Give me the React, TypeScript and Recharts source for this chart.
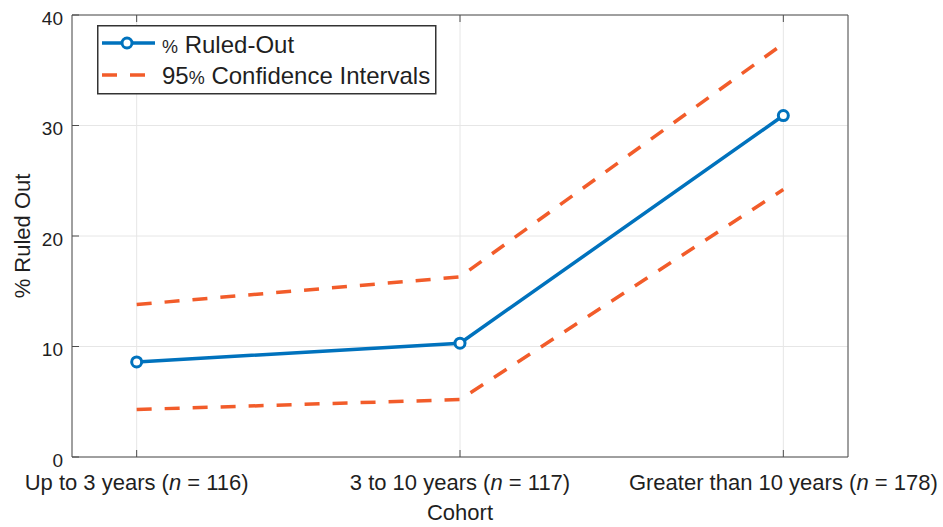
import { LineChart, Line, XAxis, YAxis, CartesianGrid, Legend, Label } from 'recharts';

// cohorts along the x axis
const cohortPos = [1, 2, 3];
const cohortNames = ['Up to 3 years', '3 to 10 years', 'Greater than 10 years'];
const cohortN = [116, 117, 178];

// % ruled out and its 95% CI bounds
const ruledOut = [8.6, 10.3, 30.9];
const ciUpper = [13.8, 16.3, 37.4];
const ciLower = [4.3, 5.2, 24.2];

const yTicks = [0, 10, 20, 30, 40];

const BLUE = '#0072BD';
const ORANGE = '#F25C2A';
const INK = '#1f1f1f';
const AXIS = '#4d4d4d';
const FONT = '"Liberation Sans", Arial, Helvetica, sans-serif';

const data = cohortPos.map((x, i) => ({
    x,
    ruledOut: ruledOut[i],
    upper: ciUpper[i],
    lower: ciLower[i],
}));

const BottomTick = ({ x, y, payload }: any) => {
    const i = cohortPos.indexOf(payload.value);
    return (
        <g>
            <line x1={x} x2={x} y1={y} y2={y - 7} stroke={AXIS} strokeWidth={1} />
            <text x={x} y={y + 33} textAnchor="middle" fontSize={22} fill={INK} fontFamily={FONT}>
                {cohortNames[i]} (<tspan fontStyle="italic">n</tspan> = {cohortN[i]})
            </text>
        </g>
    );
};

const LeftTick = ({ x, y, payload }: any) => (
    <g>
        <line x1={x} x2={x + 7} y1={y} y2={y} stroke={AXIS} strokeWidth={1} />
        <text x={x - 9} y={y + 3} dy="0.35em" textAnchor="end" fontSize={19} fill={INK} fontFamily={FONT}>
            {payload.value}
        </text>
    </g>
);

const TopTick = ({ x, y }: any) => (
    <line x1={x} x2={x} y1={y} y2={y + 7} stroke={AXIS} strokeWidth={1} />
);

const RightTick = ({ x, y }: any) => (
    <line x1={x} x2={x - 7} y1={y} y2={y} stroke={AXIS} strokeWidth={1} />
);

// MATLAB-style boxed legend
const LegendBox = () => (
    <svg width={340} height={70} style={{ display: 'block' }}>
        <rect x={0.75} y={0.75} width={338} height={68} fill="#fff" stroke="#333" strokeWidth={1.5} />
        <line x1={5} x2={58} y1={18} y2={18} stroke={BLUE} strokeWidth={3.5} />
        <circle cx={30} cy={18} r={5} fill="#fff" stroke={BLUE} strokeWidth={3} />
        <text x={65} y={28} fontSize={24} fill={INK} fontFamily={FONT}>
            <tspan fontSize={18}>%</tspan> Ruled-Out
        </text>
        <line x1={5} x2={48} y1={50} y2={50} stroke={ORANGE} strokeWidth={3.5} strokeDasharray="15 13" />
        <text x={65} y={59} fontSize={24} fill={INK} fontFamily={FONT}>
            95<tspan fontSize={18}>%</tspan> Confidence Intervals
        </text>
    </svg>
);

export default function App() {
    return (
        <div style={{ position: 'absolute', left: 0, top: 0, background: '#fff' }}>
            <LineChart width={943} height={527} data={data} margin={{ top: 14, right: 94, bottom: 0, left: 0 }}>
                <CartesianGrid stroke="#e6e6e6" strokeWidth={1} />
                <XAxis
                    dataKey="x"
                    type="number"
                    domain={[0.8, 3.2]}
                    ticks={cohortPos}
                    height={70}
                    stroke={AXIS}
                    tickSize={0}
                    tickMargin={0}
                    tickLine={false}
                    tick={<BottomTick />}
                >
                    <Label value="Cohort" position="insideBottom" offset={7} fontSize={22} fill={INK} fontFamily={FONT} />
                </XAxis>
                <XAxis
                    xAxisId="top"
                    orientation="top"
                    dataKey="x"
                    type="number"
                    domain={[0.8, 3.2]}
                    ticks={cohortPos}
                    height={1}
                    stroke={AXIS}
                    tickSize={0}
                    tickMargin={0}
                    tickLine={false}
                    tick={<TopTick />}
                />
                <YAxis
                    type="number"
                    domain={[0, 40]}
                    ticks={yTicks}
                    width={72}
                    stroke={AXIS}
                    tickSize={0}
                    tickMargin={0}
                    tickLine={false}
                    tick={<LeftTick />}
                >
                    <Label
                        value="% Ruled Out"
                        angle={-90}
                        position="insideLeft"
                        offset={22}
                        fontSize={22}
                        fill={INK}
                        fontFamily={FONT}
                        style={{ textAnchor: 'middle' }}
                    />
                </YAxis>
                <YAxis
                    yAxisId="right"
                    orientation="right"
                    type="number"
                    domain={[0, 40]}
                    ticks={yTicks}
                    width={1}
                    stroke={AXIS}
                    tickSize={0}
                    tickMargin={0}
                    tickLine={false}
                    tick={<RightTick />}
                />
                <Legend
                    layout="vertical"
                    align="center"
                    verticalAlign="middle"
                    wrapperStyle={{ left: 97, top: 25, width: 340, height: 70 }}
                    content={<LegendBox />}
                />
                <Line
                    type="linear"
                    dataKey="upper"
                    stroke={ORANGE}
                    strokeWidth={3.5}
                    strokeDasharray="15 13"
                    dot={false}
                    activeDot={false}
                    isAnimationActive={false}
                />
                <Line
                    type="linear"
                    dataKey="lower"
                    stroke={ORANGE}
                    strokeWidth={3.5}
                    strokeDasharray="15 13"
                    dot={false}
                    activeDot={false}
                    isAnimationActive={false}
                />
                <Line
                    type="linear"
                    dataKey="ruledOut"
                    stroke={BLUE}
                    strokeWidth={3.5}
                    dot={{ r: 5, stroke: BLUE, strokeWidth: 3, fill: '#fff' }}
                    activeDot={false}
                    isAnimationActive={false}
                />
            </LineChart>
        </div>
    );
}
